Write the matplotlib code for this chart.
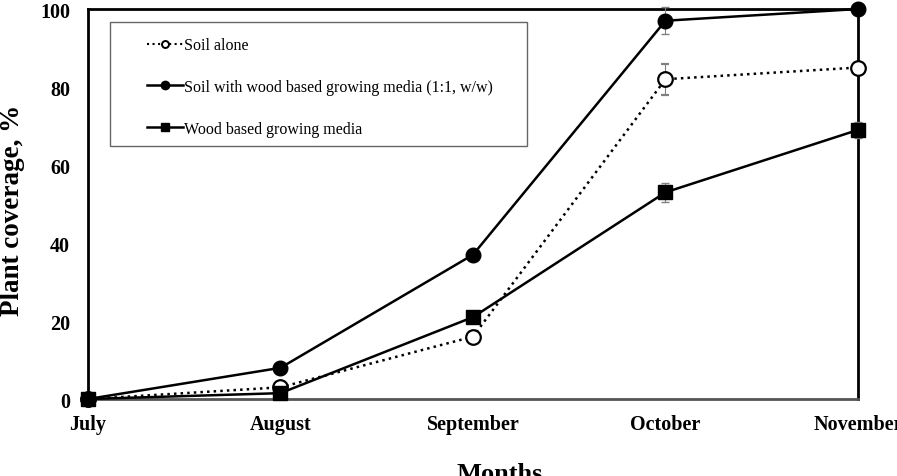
import matplotlib.pyplot as plt
import numpy as np
from matplotlib.patches import Rectangle
from matplotlib.lines import Line2D

months = ['July', 'August', 'September', 'October', 'November']
soil_alone = [0, 3, 16, 82, 85]
soil_alone_err = [0, 0.5, 0.5, 4, 0]
soil_wood = [0, 8, 37, 97, 100]
soil_wood_err = [0, 0.5, 1, 3.5, 0]
wood_media = [0, 1.5, 21, 53, 69]
wood_media_err = [0, 0.5, 1, 2.5, 2]
labels = ['Soil alone',
          'Soil with wood based growing media (1:1, w/w)',
          'Wood based growing media']

plt.rcParams['font.family'] = ['Liberation Serif', 'DejaVu Serif']

fig = plt.figure(figsize=(8.97, 4.77), dpi=100)
ax = fig.add_axes([0.0981, 0.1614, 0.8584, 0.8176])

x = np.arange(len(months))

ax.errorbar(x, soil_alone, yerr=soil_alone_err, color='black', ls=':', lw=1.8,
            marker='o', ms=10.5, mfc='white', mec='black', mew=1.6,
            ecolor='gray', elinewidth=0.8, capsize=3, clip_on=False, zorder=3)
ax.errorbar(x, soil_wood, yerr=soil_wood_err, color='black', ls='-', lw=1.8,
            marker='o', ms=10.5, mfc='black', mec='black',
            ecolor='gray', elinewidth=0.8, capsize=3, clip_on=False, zorder=3)
ax.errorbar(x, wood_media, yerr=wood_media_err, color='black', ls='-', lw=1.8,
            marker='s', ms=10, mfc='black', mec='black',
            ecolor='gray', elinewidth=0.8, capsize=3, clip_on=False, zorder=3)

ax.set_xlim(0, 4)
ax.set_ylim(0, 100)
ax.set_xticks(x)
ax.set_xticklabels(months)
ax.set_yticks([0, 20, 40, 60, 80, 100])
ax.tick_params(axis='both', length=0, labelsize=14.5)
ax.tick_params(axis='y', pad=13)
ax.tick_params(axis='x', pad=11)
for lab in ax.get_xticklabels() + ax.get_yticklabels():
    lab.set_fontweight('bold')

for s in ax.spines.values():
    s.set_linewidth(2)
    s.set_color('black')
ax.spines['bottom'].set_color('#555555')

ax.set_ylabel('Plant coverage, %', fontsize=19.5, fontweight='bold')
ax.yaxis.set_label_coords(-0.082, 0.487)
ax.set_xlabel('Months', fontsize=19, fontweight='bold')
ax.xaxis.set_label_coords(0.535, -0.162)

# legend frame drawn separately so the handles sit further in
ax.add_patch(Rectangle((0.0286, 0.649), 0.541, 0.318, transform=ax.transAxes,
                       fill=True, facecolor='white', edgecolor='#666666',
                       lw=1.0, zorder=4))
handles = [
    Line2D([], [], color='black', ls=':', lw=1.5, marker='o', ms=5,
           mfc='white', mec='black', mew=1.4),
    Line2D([], [], color='black', ls='-', lw=1.8, marker='o', ms=6,
           mfc='black', mec='black'),
    Line2D([], [], color='black', ls='-', lw=1.8, marker='s', ms=6,
           mfc='black', mec='black'),
]
leg = ax.legend(handles, labels, loc='upper left', bbox_to_anchor=(0.076, 0.927),
                fontsize=11.5, labelspacing=1.6, handlelength=2.3,
                handletextpad=0.05, borderpad=0, frameon=False,
                borderaxespad=0)
leg.set_zorder(5)

fig.savefig('out.png', dpi=100)
